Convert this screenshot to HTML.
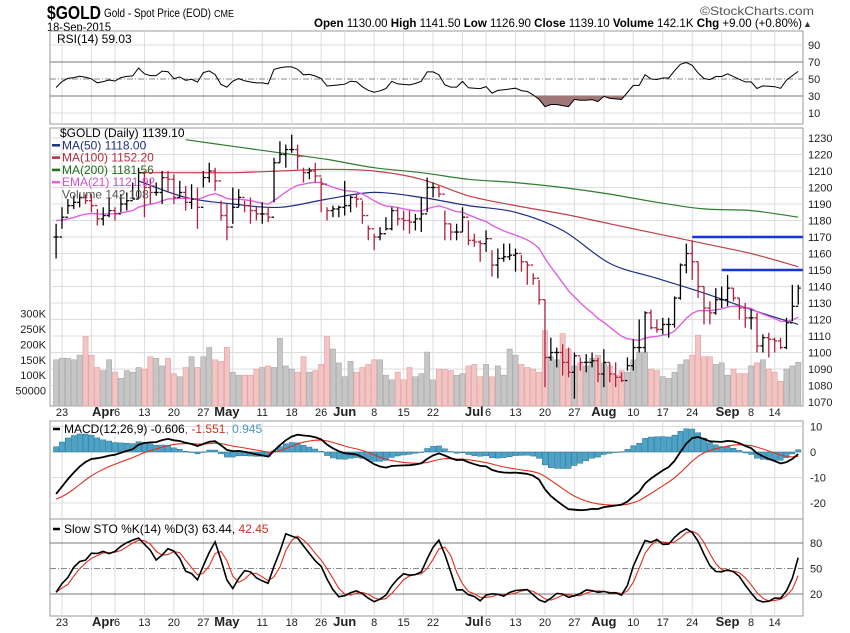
<!DOCTYPE html>
<html><head><meta charset="utf-8"><style>
html,body{margin:0;padding:0;background:#fff}
svg{display:block;font-family:"Liberation Sans",sans-serif}
</style></head><body>
<svg id="chart" width="850" height="633" viewBox="0 0 850 633" xmlns="http://www.w3.org/2000/svg">
<rect width="850" height="633" fill="#fff"/>
<g>
<text x="47" y="19" font-size="18" font-weight="bold" textLength="54" lengthAdjust="spacingAndGlyphs">$GOLD</text>
<text x="104" y="17" font-size="12" textLength="107" lengthAdjust="spacingAndGlyphs">Gold - Spot Price (EOD)</text>
<text x="214" y="17" font-size="10" textLength="20" lengthAdjust="spacingAndGlyphs">CME</text>
<text x="47" y="31" font-size="12" textLength="64" lengthAdjust="spacingAndGlyphs">18-Sep-2015</text>
<text x="700" y="15" font-size="12" fill="#555" textLength="114" lengthAdjust="spacingAndGlyphs">©StockCharts.com</text>
<text x="314" y="27" font-size="12" textLength="488" lengthAdjust="spacingAndGlyphs"><tspan font-weight="bold">Open</tspan> 1130.00 <tspan font-weight="bold">High</tspan> 1141.50 <tspan font-weight="bold">Low</tspan> 1126.90 <tspan font-weight="bold">Close</tspan> 1139.10 <tspan font-weight="bold">Volume</tspan> 142.1K <tspan font-weight="bold">Chg</tspan> +9.00 (+0.80%)</text>
<text x="803" y="27" font-size="9" fill="#333">▲</text>
</g>
<g id="grid"></g>
<g id="marks"></g>
<g id="labels"></g>
</svg>
<script>
const closes=[1170,1182,1189,1191,1194,1192,1189,1181,1183,1186,1184,1190,1192,1193,1209,1200,1197,1197,1206,1205,1194,1197,1191,1193,1188,1206,1210,1204,1183,1176,1188,1194,1189,1186,1184,1184,1182,1215,1220,1223,1223,1219,1209,1210,1207,1202,1186,1187,1188,1189,1194,1193,1183,1175,1170,1172,1175,1186,1181,1180,1179,1181,1184,1200,1200,1196,1178,1173,1173,1182,1168,1167,1166,1169,1153,1157,1158,1159,1160,1155,1153,1145,1132,1097,1100,1100,1094,1088,1098,1094,1094,1095,1087,1094,1087,1085,1083,1092,1103,1103,1124,1115,1114,1117,1117,1133,1153,1160,1155,1140,1127,1124,1132,1132,1139,1133,1127,1121,1121,1104,1109,1108,1107,1103,1118,1128,1139];
const highs=[1178,1188,1193,1195,1196,1196,1196,1187,1188,1194,1188,1196,1197,1203,1212,1210,1205,1203,1210,1210,1208,1204,1201,1202,1200,1210,1215,1212,1192,1190,1200,1199,1192,1194,1188,1191,1188,1218,1228,1226,1232,1226,1212,1212,1215,1206,1188,1189,1189,1204,1195,1196,1192,1177,1172,1176,1182,1188,1188,1186,1186,1184,1194,1206,1203,1201,1186,1178,1178,1188,1180,1172,1168,1174,1162,1163,1166,1166,1163,1159,1155,1148,1144,1132,1109,1103,1105,1103,1100,1097,1099,1100,1097,1102,1094,1094,1088,1097,1108,1120,1125,1126,1120,1121,1121,1134,1154,1166,1168,1155,1140,1131,1139,1140,1147,1139,1133,1130,1126,1124,1111,1112,1109,1109,1121,1141,1141];
const lows=[1157,1175,1184,1187,1188,1190,1185,1177,1177,1182,1180,1185,1186,1193,1193,1182,1190,1195,1190,1197,1190,1194,1186,1187,1175,1200,1203,1198,1180,1168,1178,1188,1185,1178,1180,1178,1179,1191,1215,1212,1221,1211,1203,1205,1203,1185,1180,1182,1182,1183,1185,1188,1178,1168,1162,1168,1174,1174,1177,1174,1172,1174,1173,1185,1194,1194,1168,1168,1168,1173,1165,1164,1155,1161,1146,1145,1155,1156,1149,1149,1141,1141,1129,1079,1095,1091,1086,1085,1072,1089,1088,1091,1082,1079,1082,1079,1082,1089,1089,1100,1100,1114,1112,1111,1109,1115,1132,1148,1144,1133,1117,1117,1123,1127,1128,1131,1120,1115,1114,1100,1100,1097,1100,1102,1102,1119,1129];
const volumes=[150,155,155,150,165,225,165,125,115,150,110,90,115,110,125,120,160,155,130,155,105,95,125,160,125,160,190,150,145,190,110,100,100,100,120,125,130,125,220,130,120,110,160,110,115,135,225,185,140,95,145,110,125,135,150,150,100,85,110,85,125,95,105,175,85,120,118,115,100,105,130,135,95,135,95,130,100,185,165,135,125,120,110,245,160,150,235,185,130,140,130,155,165,140,130,100,115,110,150,175,175,120,115,95,90,110,135,150,165,230,160,160,135,140,100,120,105,105,130,140,150,120,110,80,120,130,142];
const maIdx=[14,22,30,38,46,54,62,70,78,86,94,102,110,118,126];
const ma50=[1204,1194,1190,1188,1193,1197,1194,1189,1185,1174,1154,1145,1136,1126,1117];
const ma100=[1209,1209,1209,1210,1211,1210,1205,1195,1189,1184,1178,1172,1166,1160,1152];
const ma200Idx=[22,30,38,46,54,62,70,78,86,94,102,110,118,126];
const ma200=[1229,1225,1221,1217,1212,1209,1205,1203,1200,1196,1191,1187,1186,1182];
const tickIdx=[1,8,10,15,20,25,29,35,40,45,49,54,59,64,71,73,78,83,88,93,98,103,108,114,118,122];
const tickText=['23','Apr','6','13','20','27','May','11','18','26','Jun','8','15','22','Jul','6','13','20','27','Aug','10','17','24','Sep','8','14'];
const tickMonth=[0,1,0,0,0,0,1,0,0,0,1,0,0,0,1,0,0,0,0,1,0,0,0,1,0,0];
const gridIdx=[1,6,10,15,20,25,30,35,40,45,49,54,59,64,69,73,78,83,88,93,98,103,108,113,118,122];
const priceTicks=[1070,1080,1090,1100,1110,1120,1130,1140,1150,1160,1170,1180,1190,1200,1210,1220,1230];
const volTicks=[50,100,150,200,250,300];
const volTickText=['50000','100K','150K','200K','250K','300K'];
const rsiTicks=[10,30,50,70,90];
const macdTicks=[-20,-10,0,10];
const stoTicks=[20,50,80];
const levels=[[1170,108],[1150,113]];
/* indicator seeds */
const emaSeed=1181, ema12Seed=1160, ema26Seed=1178.6, sigSeed=-19, rsiGainSeed=3, rsiLossSeed=4.5, stoPriorHigh=1216, stoPriorBars=6;

const NS='http://www.w3.org/2000/svg';
const L=50,R=803;
const X=i=>56.1+i*5.89;
const PY=v=>138+(1230-v)*1.65;
const VY=k=>406-k*0.308;
const RY=v=>79-(v-50)*0.85;
const MY=v=>452-v*2.55;
const SY=v=>594-(v-20)*0.85;
const gG=document.getElementById('grid'),gM=document.getElementById('marks'),gL=document.getElementById('labels');
function mk(tag,attrs,parent){const e=document.createElementNS(NS,tag);for(const k in attrs)e.setAttribute(k,attrs[k]);parent.appendChild(e);return e;}
function txt(s,attrs,parent){const e=mk('text',attrs,parent);e.textContent=s;return e;}
function pathOf(idx,vals,fy){return vals.map((v,j)=>(j?'L':'M')+X(idx[j]).toFixed(1)+' '+fy(v).toFixed(1)).join(' ');}
function smoothOf(idx,vals,fy){const p=vals.map((v,j)=>[X(idx[j]),fy(v)]);let d='M'+p[0][0].toFixed(1)+' '+p[0][1].toFixed(1);
 for(let j=0;j<p.length-1;j++){const a=p[j-1]||p[j],b=p[j],c=p[j+1],e=p[j+2]||c;
  d+=' C'+(b[0]+(c[0]-a[0])/6).toFixed(1)+' '+(b[1]+(c[1]-a[1])/6).toFixed(1)+' '+(c[0]-(e[0]-b[0])/6).toFixed(1)+' '+(c[1]-(e[1]-b[1])/6).toFixed(1)+' '+c[0].toFixed(1)+' '+c[1].toFixed(1);}
 return d;}
const all=closes.map((_,i)=>i);

const panels=[['rsi-panel',31,124],['price-panel',128,406],['macd-panel',421,519],['sto-panel',519,616]];
panels.forEach(p=>{
 const r=mk('rect',{x:L,y:p[1],width:R-L,height:p[2]-p[1],fill:'#fff',stroke:'#999','stroke-width':1},gG);
 
 
 gridIdx.forEach(i=>{const l=mk('line',{x1:X(i),x2:X(i),y1:p[1],y2:p[2],stroke:'#ddd','stroke-width':1},gG);
  
  });
});
function hline(y,x1,x2,stroke,dash,name,w){const l=mk('line',{x1:x1,x2:x2,y1:y,y2:y,stroke:stroke,'stroke-width':w||1},gG);if(dash)l.setAttribute('stroke-dasharray',dash);
 
 }
priceTicks.forEach(v=>{hline(PY(v),L,R,'#ddd',null,'price-gridline');
 const t=txt(String(v),{x:808,y:PY(v)+4,'font-size':11,fill:'#222'},gL);
 
 });
volTicks.forEach((k,j)=>{const t=txt(volTickText[j],{x:46,y:VY(k)+4,'font-size':11,'text-anchor':'end',fill:'#222'},gL);
 
 });
rsiTicks.forEach(v=>{
 if(v===70||v===30)hline(RY(v),L,R,'#777',null,'rsi-level-line');
 else if(v===50)hline(RY(v),L,R,'#888','6,2,1,2','rsi-midline');
 else hline(RY(v),L,R,'#ddd',null,'rsi-gridline');
 const t=txt(String(v),{x:808,y:RY(v)+4,'font-size':11,fill:'#222'},gL);
 
 });
macdTicks.forEach(v=>{hline(MY(v),L,R,'#ddd',null,'macd-gridline');
 const t=txt(String(v),{x:810,y:MY(v)+4,'font-size':11,fill:'#222'},gL);
 
 });
stoTicks.forEach(v=>{
 if(v===50)hline(SY(v),L,R,'#888','6,2,1,2','sto-midline');else hline(SY(v),L,R,'#777',null,'sto-level-line');
 const t=txt(String(v),{x:810,y:SY(v)+4,'font-size':11,fill:'#222'},gL);
 
 });
[412,622].forEach(yb=>{
 tickIdx.forEach((i,j)=>{let x=X(i);
  if(tickText[j]==='6'&&(tickText[j-1]==='Apr'||tickText[j-1]==='Jul'))x+=2;
  const t=txt(tickText[j],{x:x,y:yb+4,'font-size':tickMonth[j]?13:11,'font-weight':tickMonth[j]?'bold':'normal','text-anchor':'middle',fill:'#222'},gL);
  
  });
});

closes.forEach((c,i)=>{const down=i>0&&c<closes[i-1];
 const r=mk('rect',{x:X(i)-2.6,y:VY(volumes[i]),width:5.2,height:406-VY(volumes[i]),fill:down?'#f3c4c4':'#c6c6c6',stroke:down?'#e0a0a0':'#a8a8a8','stroke-width':0.6},gM);
 
 });
function line(d,stroke,w,name){const p=mk('path',{d:d,fill:'none',stroke:stroke,'stroke-width':w},gM);
 
 return p;}
line(smoothOf(ma200Idx,ma200,PY),'#2e7d2e',1.2,'ma200-line');
line(smoothOf(maIdx,ma100,PY),'#c0404a',1.2,'ma100-line');
line(smoothOf(maIdx,ma50,PY),'#1f2f80',1.2,'ma50-line');
const ema21=[];let e=emaSeed;closes.forEach(c=>{e=e+(c-e)*2/22;ema21.push(e);});
line(pathOf(all,ema21,PY),'#e060e0',1.4,'ema21-line');
closes.forEach((c,i)=>{const down=i>0&&c<closes[i-1];const col=down?'#b02040':'#000';const o=i>0?closes[i-1]:c;const x=X(i);
 const g=mk('g',{stroke:col,'stroke-width':1.3},gM);
 
 
 mk('line',{x1:x,x2:x,y1:PY(highs[i]),y2:PY(lows[i])},g);
 mk('line',{x1:x-2.5,x2:x,y1:PY(o),y2:PY(o)},g);
 mk('line',{x1:x,x2:x+2.5,y1:PY(c),y2:PY(c)},g);});
levels.forEach(lv=>{const l=mk('line',{x1:X(lv[1]),x2:R,y1:PY(lv[0]),y2:PY(lv[0]),stroke:'#1535d5','stroke-width':2.5},gM);
 
 });

const rsi=[];let ag=rsiGainSeed,al=rsiLossSeed;
closes.forEach((c,i)=>{const d=i>0?c-closes[i-1]:0;ag=(ag*13+Math.max(d,0))/14;al=(al*13+Math.max(-d,0))/14;rsi.push(100-100/(1+ag/al));});
const clip=mk('clipPath',{id:'below30'},gM);mk('rect',{x:L,y:RY(30),width:R-L,height:40},clip);
const fillP=mk('path',{d:pathOf(all,rsi,RY)+' L'+X(126)+' '+RY(30)+' L'+X(0)+' '+RY(30)+' Z',fill:'#a07878','clip-path':'url(#below30)'},gM);


line(pathOf(all,rsi,RY),'#000',1,'rsi-line');

const macd=[],sig=[];let e12=ema12Seed,e26=ema26Seed,s=sigSeed;
closes.forEach(c=>{e12+=(c-e12)*2/13;e26+=(c-e26)*2/27;const m=e12-e26;s+=(m-s)*2/10;macd.push(m);sig.push(s);});
macd.forEach((m,i)=>{const h=m-sig[i];const y0=MY(0),y1=MY(h);
 const r=mk('rect',{x:X(i)-2.6,y:Math.min(y0,y1),width:5.2,height:Math.max(Math.abs(y1-y0),0.5),fill:'#4ba3c8',stroke:'#2a6f90','stroke-width':0.5},gM);
 
 });
line(pathOf(all,sig,MY),'#e03020',1.1,'macd-signal-line');
line(pathOf(all,macd,MY),'#000',1.8,'macd-line');

const fk=closes.map((c,i)=>{const a=Math.max(0,i-13);let hh=i<stoPriorBars?stoPriorHigh:-1e9,ll=1e9;for(let j=a;j<=i;j++){hh=Math.max(hh,highs[j]);ll=Math.min(ll,lows[j]);}return hh>ll?100*(c-ll)/(hh-ll):50;});
const sma3=arr=>arr.map((_,i)=>{const a=Math.max(0,i-2);let t=0;for(let j=a;j<=i;j++)t+=arr[j];return t/(i-a+1);});
const sk=sma3(fk),sd=sma3(sk);
line(pathOf(all,sd,SY),'#e03020',1.1,'sto-d-line');
line(pathOf(all,sk,SY),'#000',1.6,'sto-k-line');

function legend(items,x,y,parent,name){const t=mk('text',{x:x,y:y,'font-size':12},parent);
 
 
 items.forEach(it=>{const ts=document.createElementNS(NS,'tspan');ts.setAttribute('fill',it[1]);ts.textContent=it[0];t.appendChild(ts);});}
legend([['RSI(14) 59.03','#000']],57,43,gL,'rsi-legend');
const lg=[['$GOLD (Daily) 1139.10','#000',null],['MA(50) 1118.00','#1f2f80','#1f2f80'],['MA(100) 1152.20','#b03040','#b03040'],['MA(200) 1181.56','#1e6e1e','#1e6e1e'],['EMA(21) 1121.92','#d050d0','#e060e0'],['Volume 142,108','#555',null]];
lg.forEach((it,j)=>{const y=137+j*12.3;
 if(it[2]){const l=mk('line',{x1:52,x2:60,y1:y-4,y2:y-4,stroke:it[2],'stroke-width':2.5},gL);
  
  }
 legend([[it[0],it[1]]],j===0?60:62,y,gL,'legend-entry');});
legend([['MACD(12,26,9) -0.606','#000'],[', -1.551','#d03020'],[', 0.945','#4a9ac0']],64,433,gL,'macd-legend');
legend([['Slow STO %K(14) %D(3) 63.44, ','#000'],['42.45','#d03020']],64,533,gL,'sto-legend');
[[53,429],[53,529]].forEach(p=>{const l=mk('line',{x1:p[0],x2:p[0]+7,y1:p[1],y2:p[1],stroke:'#000','stroke-width':2.5},gL);
 
 });
</script>
</body></html>
